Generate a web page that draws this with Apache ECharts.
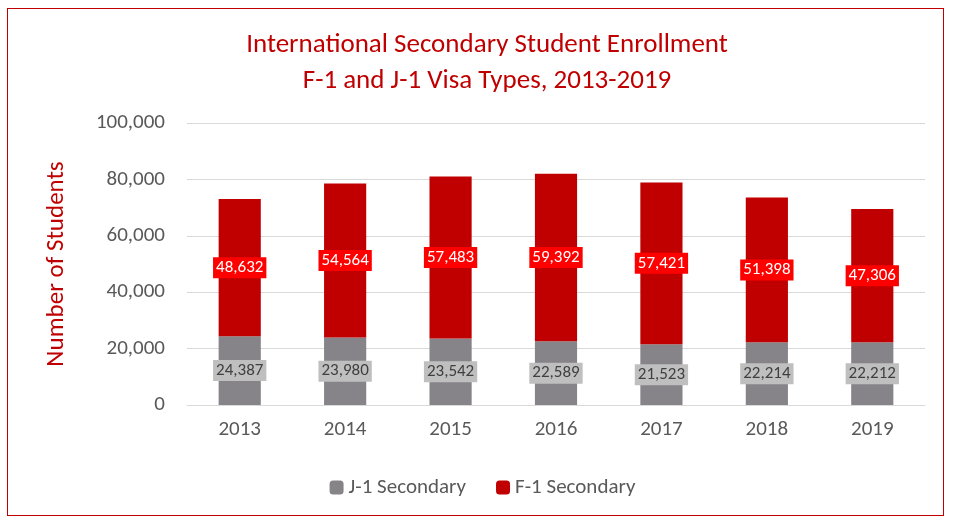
<!DOCTYPE html>
<html><head><meta charset="utf-8">
<script src="https://cdn.jsdelivr.net/npm/echarts@6/dist/echarts.min.js"></script>
<style>body{margin:0;background:#fff}#c{width:965px;height:523px}
#b{position:absolute;left:7px;top:8px;width:935px;height:506px;border:1px solid #c00000;pointer-events:none}</style>
</head><body><div id="c"></div><div id="b"></div>
<script>
var years=['2013','2014','2015','2016','2017','2018','2019'];
var j1=[24387,23980,23542,22589,21523,22214,22212];
var f1=[48632,54564,57483,59392,57421,51398,47306];
var font='Calibri, Carlito, "Liberation Sans", sans-serif';
var fmt=function(p){return p.value.toLocaleString('en-US')};
var myChart=echarts.init(document.getElementById('c'));
var option={
    title:{
        text:'International Secondary Student Enrollment\nF-1 and J-1 Visa Types, 2013-2019',
        left:482,top:22,textAlign:'center',
        textStyle:{color:'#c00000',fontSize:27,fontWeight:'normal',fontFamily:font,lineHeight:36}
    },
    legend:{
        bottom:20,left:'center',itemWidth:14,itemHeight:14,itemGap:30,
        textStyle:{color:'#595959',fontSize:21,fontFamily:font}
    },
    grid:{left:187,right:40,top:123,bottom:118},
    xAxis:{
        type:'category',data:years,
        axisLine:{lineStyle:{color:'#d9d9d9'}},axisTick:{show:false},
        axisLabel:{color:'#595959',fontSize:21,fontFamily:font,margin:14}
    },
    yAxis:{
        type:'value',min:0,max:100000,interval:20000,
        name:'Number of Students',nameLocation:'middle',nameGap:118,
        nameTextStyle:{color:'#c00000',fontSize:25,fontFamily:font},
        splitLine:{lineStyle:{color:'#d9d9d9'}},
        axisLabel:{color:'#595959',fontSize:21,fontFamily:font,margin:22,
            formatter:function(v){return v.toLocaleString('en-US')}}
    },
    series:[
        {name:'J-1 Secondary',type:'bar',stack:'a',barWidth:'40%',data:j1,
         itemStyle:{color:'#868389'},
         label:{show:true,position:'inside',formatter:fmt,color:'#404040',fontSize:17,fontFamily:font,
            backgroundColor:'#bfbfbf',padding:[2,3]}},
        {name:'F-1 Secondary',type:'bar',stack:'a',data:f1,
         itemStyle:{color:'#c00000'},
         label:{show:true,position:'inside',formatter:fmt,color:'#fff',fontSize:17,fontFamily:font,
            backgroundColor:'#ff0000',padding:[2,3]}}
    ]
};
myChart.setOption(option,true);
</script></body></html>
